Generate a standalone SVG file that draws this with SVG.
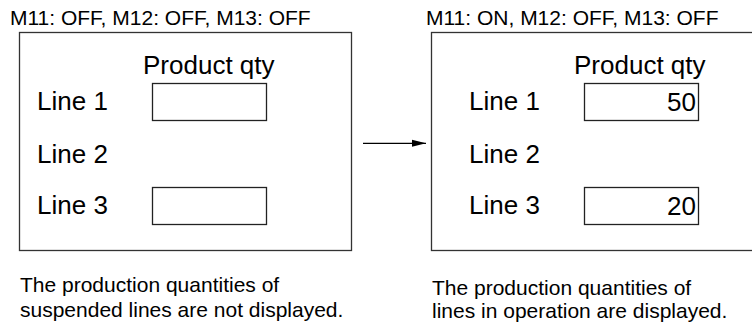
<svg xmlns="http://www.w3.org/2000/svg" width="752" height="327" viewBox="0 0 752 327">
<defs>
<style>
text{font-family:"Liberation Sans",Arial,sans-serif;fill:#000}
.s{font-size:21px}
.b{font-size:26px}
.frame{fill:#fff;stroke:#333;stroke-width:1.3}
.field{fill:#fff;stroke:#222;stroke-width:1.3}
.conn{stroke:#000;stroke-width:1.3;fill:none}
</style>
<marker id="ah" markerWidth="14" markerHeight="8" refX="14" refY="4" orient="auto" markerUnits="userSpaceOnUse">
<path d="M0,0.5 L14,4 L0,7.5 Z" fill="#000"/>
</marker>
</defs>
<rect width="752" height="327" fill="#fff"/>
<g id="before">
<text class="s" x="10" y="25">M11: OFF, M12: OFF, M13: OFF</text>
<rect class="frame" x="19.5" y="32.5" width="332" height="218"/>
<text class="b" x="143" y="74">Product qty</text>
<text class="b" x="37" y="110">Line 1</text>
<rect class="field" x="152.5" y="83.5" width="114" height="37"/>
<text class="b" x="37" y="163">Line 2</text>
<text class="b" x="37" y="214">Line 3</text>
<rect class="field" x="152.5" y="187.5" width="114" height="37"/>
<text class="s" x="20" y="292">The production quantities of</text>
<text class="s" x="20" y="316.5">suspended lines are not displayed.</text>
</g>
<g id="after">
<text class="s" x="426" y="25">M11: ON, M12: OFF, M13: OFF</text>
<rect class="frame" x="431.5" y="32.5" width="330" height="218"/>
<text class="b" x="574" y="74">Product qty</text>
<text class="b" x="469" y="110">Line 1</text>
<rect class="field" x="584.5" y="83.5" width="114" height="37"/>
<text class="b" x="696" y="111" text-anchor="end">50</text>
<text class="b" x="469" y="163">Line 2</text>
<text class="b" x="469" y="214">Line 3</text>
<rect class="field" x="584.5" y="187.5" width="114" height="37"/>
<text class="b" x="696" y="215" text-anchor="end">20</text>
<text class="s" x="432" y="294.5">The production quantities of</text>
<text class="s" x="432" y="318">lines in operation are displayed.</text>
</g>
<g id="connectors">
<line class="conn" x1="363" y1="143.3" x2="426" y2="143.3" marker-end="url(#ah)"/>
</g>
</svg>
